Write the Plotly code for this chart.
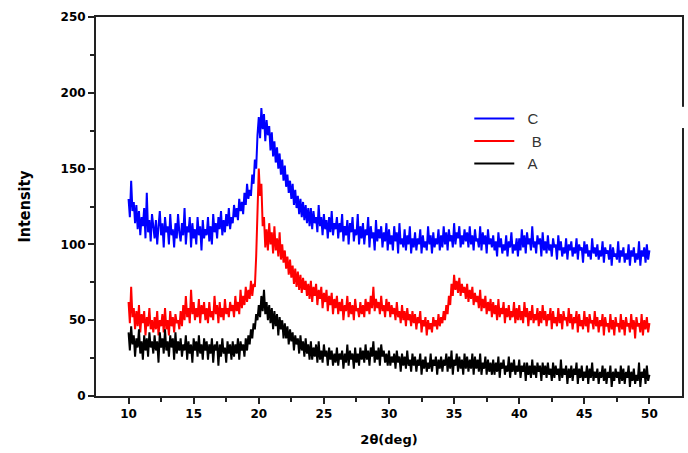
import plotly.graph_objects as go

ANGLE_START = 10.0
ANGLE_STEP = 0.1

intensity_C = [
    130, 118, 142, 122, 128, 114, 126, 110, 122, 106, 118, 112, 124, 104, 134, 108, 116, 102, 120, 110,
    104, 116, 100, 112, 122, 106, 114, 98, 118, 108, 112, 100, 120, 106, 110, 98, 114, 104, 120, 108,
    102, 114, 106, 124, 100, 112, 108, 118, 98, 114, 104, 110, 100, 118, 106, 112, 96, 116, 104, 110,
    106, 118, 102, 112, 100, 120, 108, 114, 104, 118, 110, 122, 106, 116, 108, 120, 112, 124, 110, 118,
    114, 126, 118, 124, 116, 130, 122, 128, 120, 134, 126, 140, 130, 136, 132, 146, 140, 156, 150, 172,
    184, 170, 190, 176, 186, 168, 182, 172, 178, 162, 174, 158, 168, 154, 164, 150, 160, 146, 156, 142,
    152, 138, 146, 134, 142, 130, 140, 126, 136, 124, 132, 120, 130, 118, 128, 116, 126, 114, 124, 112,
    124, 110, 122, 114, 118, 108, 126, 112, 118, 106, 120, 110, 116, 104, 118, 108, 122, 106, 114, 110,
    118, 104, 114, 108, 120, 102, 112, 106, 116, 100, 114, 108, 118, 102, 110, 106, 120, 100, 112, 104,
    114, 100, 110, 106, 118, 98, 112, 104, 108, 96, 116, 102, 110, 104, 112, 98, 108, 102, 114, 96,
    110, 100, 106, 96, 112, 102, 108, 94, 114, 100, 104, 98, 110, 96, 106, 100, 112, 94, 104, 98,
    108, 96, 104, 100, 110, 94, 106, 98, 102, 96, 112, 100, 106, 94, 108, 98, 104, 100, 110, 96,
    106, 98, 112, 100, 108, 96, 110, 102, 106, 98, 114, 100, 108, 104, 112, 98, 106, 100, 110, 102,
    108, 98, 112, 100, 106, 96, 110, 102, 104, 98, 112, 96, 108, 100, 106, 94, 110, 100, 104, 98,
    106, 96, 102, 92, 108, 98, 104, 94, 100, 96, 106, 92, 102, 98, 108, 94, 100, 96, 104, 92,
    104, 96, 110, 98, 106, 94, 108, 100, 104, 96, 112, 98, 102, 94, 106, 100, 104, 92, 108, 96,
    102, 94, 106, 96, 100, 92, 104, 98, 100, 90, 106, 96, 102, 92, 98, 94, 104, 90, 100, 96,
    102, 92, 98, 94, 104, 90, 100, 96, 98, 88, 102, 94, 100, 92, 96, 90, 104, 94, 98, 92,
    100, 90, 96, 92, 102, 88, 98, 94, 96, 90, 100, 86, 98, 92, 94, 90, 102, 88, 96, 92,
    98, 88, 94, 90, 100, 86, 96, 92, 98, 88, 94, 90, 102, 86, 96, 92, 98, 88, 100, 90,
    96,
]

intensity_B = [
    62, 48, 72, 52, 58, 44, 56, 46, 60, 42, 54, 48, 56, 40, 52, 46, 58, 44, 50, 42,
    52, 44, 56, 40, 50, 46, 54, 42, 58, 44, 50, 40, 56, 46, 52, 42, 54, 48, 50, 44,
    56, 46, 60, 50, 66, 52, 58, 48, 70, 54, 62, 50, 58, 52, 64, 48, 60, 54, 62, 50,
    58, 48, 62, 52, 56, 50, 66, 54, 60, 48, 62, 52, 58, 50, 64, 54, 58, 52, 62, 56,
    60, 52, 66, 56, 62, 54, 70, 58, 66, 60, 72, 62, 70, 64, 76, 66, 74, 72, 92, 118,
    150, 132, 140, 112, 118, 98, 110, 96, 114, 100, 108, 94, 112, 96, 104, 92, 108, 90, 100, 88,
    96, 84, 92, 80, 90, 78, 86, 74, 84, 72, 82, 70, 80, 68, 78, 70, 76, 66, 74, 64,
    76, 62, 72, 66, 74, 60, 70, 64, 72, 58, 68, 62, 70, 56, 66, 60, 68, 54, 64, 58,
    66, 54, 62, 56, 64, 50, 60, 56, 66, 52, 62, 54, 60, 50, 64, 56, 58, 52, 62, 54,
    60, 52, 64, 56, 62, 54, 66, 58, 72, 56, 64, 58, 62, 54, 66, 56, 60, 52, 64, 56,
    62, 52, 60, 54, 58, 50, 62, 52, 56, 48, 60, 50, 56, 46, 58, 50, 54, 46, 56, 48,
    54, 44, 52, 48, 56, 42, 50, 46, 52, 40, 50, 44, 48, 42, 52, 46, 50, 44, 54, 46,
    52, 48, 56, 50, 60, 54, 66, 60, 74, 66, 80, 70, 76, 68, 78, 66, 74, 68, 72, 64,
    74, 62, 70, 64, 72, 60, 68, 62, 66, 58, 70, 56, 64, 58, 66, 54, 62, 56, 64, 52,
    62, 54, 60, 50, 64, 52, 58, 54, 62, 48, 58, 52, 60, 50, 56, 52, 62, 48, 58, 50,
    60, 50, 56, 48, 62, 52, 58, 46, 56, 50, 60, 48, 54, 50, 58, 46, 56, 48, 60, 50,
    56, 46, 54, 50, 58, 44, 56, 48, 52, 46, 58, 48, 54, 44, 56, 50, 52, 46, 58, 48,
    54, 44, 52, 48, 56, 42, 54, 46, 50, 44, 56, 46, 52, 42, 54, 48, 50, 44, 56, 46,
    52, 42, 50, 46, 54, 40, 52, 46, 48, 42, 54, 44, 50, 40, 52, 46, 48, 42, 54, 44,
    50, 40, 52, 46, 48, 42, 54, 44, 50, 38, 52, 46, 48, 42, 54, 40, 50, 44, 52, 42,
    48,
]

intensity_A = [
    42, 30, 46, 34, 40, 26, 38, 32, 44, 28, 36, 24, 40, 30, 38, 26, 42, 32, 36, 28,
    40, 30, 36, 22, 42, 32, 38, 28, 44, 30, 36, 26, 40, 32, 38, 24, 42, 28, 36, 30,
    38, 26, 34, 30, 40, 24, 36, 28, 34, 22, 38, 30, 36, 26, 40, 28, 34, 24, 38, 30,
    36, 24, 34, 28, 38, 22, 34, 30, 36, 20, 34, 26, 38, 28, 32, 22, 36, 28, 34, 24,
    36, 26, 34, 28, 38, 24, 36, 30, 34, 26, 38, 30, 40, 34, 44, 38, 48, 44, 54, 50,
    60, 52, 66, 56, 70, 54, 62, 50, 60, 48, 58, 44, 56, 46, 54, 40, 52, 44, 50, 38,
    48, 38, 46, 34, 44, 36, 42, 30, 40, 34, 38, 28, 40, 30, 36, 26, 38, 28, 34, 24,
    36, 24, 32, 26, 34, 22, 36, 24, 30, 22, 34, 26, 30, 20, 32, 24, 30, 20, 28, 22,
    32, 20, 28, 24, 30, 18, 28, 22, 34, 20, 30, 24, 28, 18, 32, 22, 28, 20, 32, 24,
    30, 22, 34, 24, 30, 20, 32, 26, 36, 22, 30, 24, 32, 20, 34, 26, 30, 22, 28, 20,
    30, 20, 26, 22, 28, 18, 30, 22, 26, 16, 28, 20, 26, 18, 30, 20, 24, 16, 28, 20,
    26, 16, 24, 20, 28, 14, 24, 18, 26, 16, 22, 18, 28, 16, 24, 20, 26, 14, 24, 18,
    26, 16, 24, 20, 28, 16, 26, 18, 30, 14, 24, 20, 28, 16, 26, 18, 24, 14, 28, 18,
    26, 16, 24, 18, 28, 14, 26, 18, 24, 16, 28, 14, 22, 18, 26, 14, 24, 16, 22, 14,
    24, 14, 22, 16, 26, 12, 22, 18, 24, 14, 20, 16, 26, 12, 22, 16, 24, 14, 20, 16,
    24, 12, 20, 16, 22, 10, 22, 14, 20, 12, 24, 14, 20, 12, 22, 16, 20, 10, 22, 14,
    20, 12, 22, 14, 18, 10, 22, 12, 20, 14, 18, 10, 24, 12, 18, 14, 20, 8, 18, 12,
    20, 10, 18, 14, 22, 8, 18, 12, 20, 10, 16, 12, 20, 8, 18, 12, 22, 10, 16, 12,
    18, 8, 16, 12, 20, 10, 18, 8, 16, 12, 20, 6, 16, 10, 18, 12, 16, 8, 20, 10,
    18, 8, 16, 12, 20, 6, 16, 10, 18, 8, 14, 10, 22, 6, 16, 12, 18, 8, 20, 10,
    14,
]

x_tick_vals = [10, 15, 20, 25, 30, 35, 40, 45, 50]
y_tick_vals = [0, 50, 100, 150, 200, 250]
legend_labels = {"C": "\u00a0\u00a0C", "B": "\u00a0\u00a0\u00a0B", "A": "\u00a0\u00a0A"}

angles = [round(ANGLE_START + i * ANGLE_STEP, 2) for i in range(len(intensity_C))]

series = [
    ("C", intensity_C, "#0000ff"),
    ("B", intensity_B, "#ff0000"),
    ("A", intensity_A, "#000000"),
]

fig = go.Figure()
for name, vals, color in series:
    fig.add_trace(go.Scatter(x=angles, y=vals, mode="lines", name=legend_labels[name],
                             line=dict(color=color, width=2)))

axis_color = "#222222"
# small gap in the right spine of the original
fig.add_shape(type="line", xref="paper", yref="paper", x0=1, x1=1, y0=0.707, y1=0.763,
              line=dict(color="white", width=5), layer="above")

fig.update_layout(
    width=688, height=453,
    margin=dict(l=96, r=6, t=17, b=57),
    paper_bgcolor="white", plot_bgcolor="white",
    legend=dict(x=0.637, y=0.775, xanchor="left", yanchor="top",
                font=dict(family="Liberation Sans", size=15, color="#333333"),
                bgcolor="rgba(0,0,0,0)", tracegroupgap=0, itemwidth=40),
    showlegend=True,
)
fig.update_xaxes(
    range=[7.5, 52.5], tickvals=x_tick_vals, ticktext=[str(v) for v in x_tick_vals],
    showgrid=False, zeroline=False, automargin=False,
    showline=True, linecolor=axis_color, linewidth=2, mirror=True,
    ticks="outside", ticklen=6, tickwidth=1.5, tickcolor=axis_color,
    minor=dict(tickvals=[12.5, 17.5, 22.5, 27.5, 32.5, 37.5, 42.5, 47.5],
               ticks="outside", ticklen=4, tickwidth=1.5, tickcolor=axis_color),
    tickfont=dict(family="DejaVu Sans", size=12, color="#000000", weight="bold"),
    title=dict(text="<b>2θ(deg)</b>", font=dict(family="DejaVu Sans", size=13, color="#000000"),
               standoff=14),
)
fig.update_yaxes(
    range=[0, 250], tickvals=y_tick_vals, ticktext=[str(v) for v in y_tick_vals],
    showgrid=False, zeroline=False, automargin=False,
    showline=True, linecolor=axis_color, linewidth=2, mirror=True,
    ticks="outside", ticklen=6, tickwidth=1.5, tickcolor=axis_color,
    minor=dict(tickvals=[25, 75, 125, 175, 225],
               ticks="outside", ticklen=4, tickwidth=1.5, tickcolor=axis_color),
    tickfont=dict(family="DejaVu Sans", size=12, color="#000000", weight="bold"),
    title=dict(text="<b>Intensity</b>", font=dict(family="DejaVu Sans Condensed", size=16, color="#000000"),
               standoff=26),
)

fig.write_html("out.html",
               config={"displayModeBar": False},
               post_script="document.body.style.margin='0px';document.body.style.overflow='hidden';")
